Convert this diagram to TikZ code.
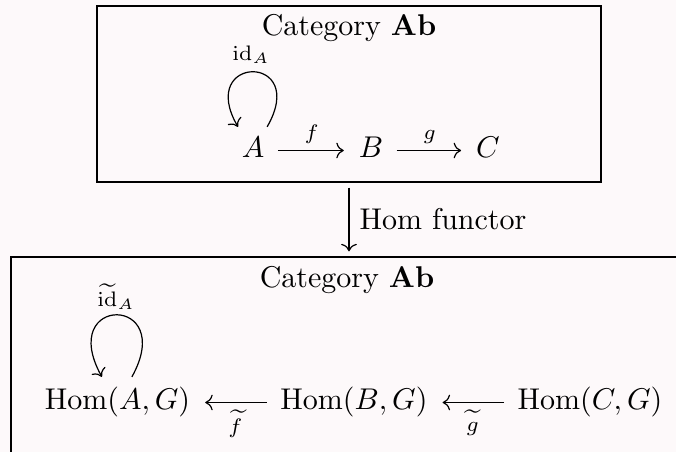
\documentclass[tikz,border=0pt]{standalone}
\usetikzlibrary{arrows.meta}
\definecolor{bg}{RGB}{253,249,250}
\begin{document}
\begin{tikzpicture}[x=0.33333pt,y=-0.33333pt,
  >={Computer Modern Rightarrow},
  frame/.style={draw, line width=0.4pt, inner sep=0pt},
  obj/.style={inner sep=3.333pt},
  lbl/.style={font=\scriptsize, inner sep=0pt},
  arr/.style={->, line width=0.4pt, shorten <=1pt, shorten >=1.5pt},
  vert/.style={->, line width=0.4pt, shorten <=1.7pt, shorten >=1.7pt},
  looparr/.style={->, line width=0.4pt}]
\path[use as bounding box, fill=bg] (0,0) rectangle (676,452);
\clip (0,0) rectangle (676,452);
% frames
\node[frame, minimum width=168pt, minimum height=58.667pt] (topbox) at (349,94) {};
\node[frame, minimum width=224pt, minimum height=74.33pt] (botbox) at (347,368.5) {};
% top category
\node[anchor=base] (t1) at (349,36) {Category $\mathbf{Ab}$};
\node[obj, anchor=base] (A) at (253,158) {$A$};
\node[obj, anchor=base] (B) at (371,158) {$B$};
\node[obj, anchor=base] (C) at (488,158) {$C$};
\node[lbl, anchor=base] (ida) at (251,60.7) {$\mathrm{id}_A$};
\draw[arr] ([yshift=2.5pt]A.base east) -- node[lbl, above=2pt] (lf) {$f$} ([yshift=2.5pt]B.base west);
\draw[arr] ([yshift=2.5pt]B.base east) -- node[lbl, above=2pt] (lg) {$g$} ([yshift=2.5pt]C.base west);
\draw[looparr] ([xshift=4.7pt]A.north) .. controls +(60:28.5pt) and +(120:28pt) .. ([xshift=-5pt]A.north);
% functor arrow
\draw[vert] (topbox.south) -- node[right, inner sep=3.333pt] (hf) {Hom functor} (topbox.south |- botbox.north);
% bottom category
\node[anchor=base] (t2) at (347,288) {Category $\mathbf{Ab}$};
\node[obj, anchor=base] (HA) at (117.5,410) {$\mathrm{Hom}(A,G)$};
\node[obj, anchor=base] (HB) at (354,410) {$\mathrm{Hom}(B,G)$};
\node[obj, anchor=base] (HC) at (590,410) {$\mathrm{Hom}(C,G)$};
\node[lbl, anchor=base] (idb) at (116,306.7) {$\widetilde{\mathrm{id}}_A$};
\draw[arr] ([yshift=2.5pt]HB.base west) -- node[lbl, below=2.3pt] (lft) {$\widetilde{f}$} ([yshift=2.5pt]HA.base east);
\draw[arr] ([yshift=2.5pt]HC.base west) -- node[lbl, below=2.3pt] (lgt) {$\widetilde{g}$} ([yshift=2.5pt]HB.base east);
\draw[looparr] ([xshift=4.8pt]HA.north) .. controls +(61:31.5pt) and +(119:31.5pt) .. ([xshift=-5.2pt]HA.north);
\end{tikzpicture}
\end{document}
